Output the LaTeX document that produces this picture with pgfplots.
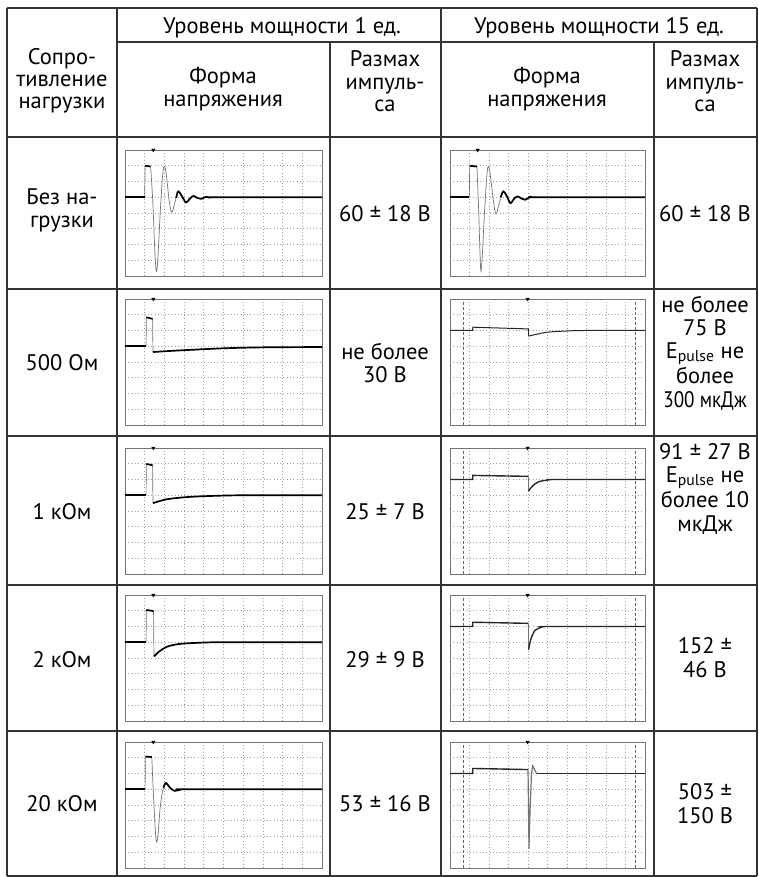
\documentclass[border=0pt]{standalone}
\usepackage{fontspec}
\setmainfont{PT Sans}
\usepackage{pgfplots}
\pgfplotsset{compat=1.18}

\pgfplotsset{
  osc/.style={
    width=197pt, height=126pt, scale only axis, anchor=north west,
    xmin=0, xmax=10, ymin=-4, ymax=4,
    xtick={1,...,9}, ytick={-3,...,3},
    xticklabel=\empty, yticklabel=\empty,
    major tick length=0pt,
    grid=major,
    major grid style={dash pattern=on 0.9pt off 2.4pt, black!38, line width=0.7pt},
    axis line style={black!55, line width=0.8pt},
  },
  fast/.style={black!55, line width=0.7pt},
  slow/.style={black, line width=1.7pt},
  thin/.style={black!85, line width=1.0pt},
  cursor/.style={black!60, densely dashed, line width=0.8pt},
  trig/.style={only marks, mark=triangle*, mark size=2pt, mark options={rotate=180, black}},
}

\newcommand\cell[3]{\node[anchor=base, inner sep=0pt, font=\fontsize{22.5}{26}\selectfont] at (#1,#2) {#3};}

\begin{document}
\begin{tikzpicture}
\begin{scope}[x=1pt, y=-1pt]
\path[use as bounding box] (0,0) rectangle (758,877);
\begin{scope}[draw=black!80, line width=1.5pt]
  \draw (7,8) -- (757,8);
  \draw (117,42) -- (757,42);
  \foreach \yy in {137,289,436,585,731} \draw (7,\yy) -- (757,\yy);
  \draw (7,876) -- (757,876);
  \draw (7,8) -- (7,876);
  \draw (117,8) -- (117,876);
  \draw (441,8) -- (441,876);
  \draw (757,8) -- (757,876);
  \draw (330,42) -- (330,876);
  \draw (654,42) -- (654,876);
\end{scope}

% header
\cell{282}{34}{Уровень мощности 1 ед.}
\cell{599}{34}{Уровень мощности 15 ед.}
\cell{62}{65}{Сопро-}
\cell{62}{87}{тивление}
\cell{62}{109}{нагрузки}
\cell{223}{84}{Форма}
\cell{223}{107}{напряжения}
\cell{385}{67}{Размах}
\cell{385}{90}{импуль-}
\cell{385}{112}{са}
\cell{547}{84}{Форма}
\cell{547}{107}{напряжения}
\cell{705}{67}{Размах}
\cell{705}{90}{импуль-}
\cell{705}{112}{са}

% rows
\cell{62}{205}{Без на-}
\cell{62}{228}{грузки}
\cell{385}{222}{60 ± 18 В}
\cell{705}{222}{60 ± 18 В}

\cell{62}{370}{500 Ом}
\cell{385}{359}{не более}
\cell{385}{382}{30 В}
\cell{705}{312}{не более}
\cell{705}{335}{75 В}
\cell{705}{358}{E\textsubscript{pulse} не}
\cell{705}{383}{более}
\cell{705}{407}{\scalebox{0.85}[1]{300 мкДж}}

\cell{62}{519}{1 кОм}
\cell{385}{519}{25 ± 7 В}
\cell{705}{459}{91 ± 27 В}
\cell{705}{482}{E\textsubscript{pulse} не}
\cell{705}{507}{более 10}
\cell{705}{531}{мкДж}

\cell{62}{667}{2 кОм}
\cell{385}{667}{29 ± 9 В}
\cell{705}{653}{152 ±}
\cell{705}{677}{46 В}

\cell{62}{811}{20 кОм}
\cell{385}{811}{53 ± 16 В}
\cell{705}{799}{503 ±}
\cell{705}{823}{150 В}
\end{scope}

% ---- no load, 1 unit
\begin{axis}[osc, at={(125pt,-150pt)}]
\addplot[fast] coordinates {(1.0,1) (1.02,3.0)};
\addplot[fast, smooth, tension=0.6] coordinates {
  (1.3,2.95) (1.42,0.5) (1.52,-2.6) (1.6,-3.7) (1.68,-2.6) (1.8,0.3)
  (1.92,2.5) (2.0,2.95) (2.1,2.4) (2.24,0.8) (2.37,0.05) (2.52,0.6)
  (2.7,1.37) (2.9,1.05) (3.1,0.67) (3.3,0.92) (3.48,1.08) (3.68,0.95)
  (3.88,0.9) (4.1,1.02) (4.35,0.98) (4.7,1.0)};
\addplot[slow] coordinates {(0,1) (1.0,1)};
\addplot[slow] coordinates {(1.02,3.0) (1.3,2.95)};
\addplot[slow, smooth, tension=0.6] coordinates {
  (2.6,0.95) (2.7,1.37) (2.9,1.05) (3.1,0.67) (3.3,0.92) (3.48,1.08)
  (3.68,0.95) (3.88,0.9) (4.1,1.02) (4.35,0.98) (4.7,1.0) (10,1.0)};
\addplot[trig] coordinates {(1.44,4)};
\end{axis}

% ---- no load, 15 units
\begin{axis}[osc, at={(450pt,-150pt)}, width=195pt]
\addplot[fast] coordinates {(0.99,1) (1.01,3.0)};
\addplot[fast, smooth, tension=0.6] coordinates {
  (1.38,2.95) (1.46,0.5) (1.54,-2.6) (1.59,-3.7) (1.66,-2.6) (1.78,0.3)
  (1.9,2.5) (1.97,2.95) (2.07,2.4) (2.22,0.8) (2.36,-0.05) (2.52,0.6)
  (2.74,1.37) (2.92,1.05) (3.1,0.63) (3.28,0.9) (3.47,1.05) (3.66,0.92)
  (3.85,0.84) (4.05,0.98) (4.2,1.02) (4.6,1.0)};
\addplot[slow] coordinates {(0,1) (0.99,1)};
\addplot[slow] coordinates {(1.01,3.0) (1.38,2.95)};
\addplot[slow, smooth, tension=0.6] coordinates {
  (2.6,1.0) (2.74,1.37) (2.92,1.05) (3.1,0.63) (3.28,0.9) (3.47,1.05)
  (3.66,0.92) (3.85,0.84) (4.05,0.98) (4.2,1.02) (4.6,1.0) (10,1.0)};
\addplot[trig] coordinates {(1.42,4)};
\end{axis}

% ---- 500 Ohm, 1 unit
\begin{axis}[osc, at={(125pt,-299pt)}]
\addplot[fast] coordinates {(1.07,1) (1.08,2.84)};
\addplot[fast] coordinates {(1.4,2.74) (1.42,0.63)};
\addplot[slow] coordinates {(0,1) (1.07,1)};
\addplot[slow] coordinates {(1.08,2.84) (1.4,2.74)};
\addplot[slow, smooth] coordinates {(1.42,0.63) (2,0.68) (3,0.75) (5,0.87) (7,0.93) (10,0.95)};
\addplot[trig] coordinates {(1.44,4)};
\end{axis}

% ---- 500 Ohm, 15 units
\begin{axis}[osc, at={(450pt,-299pt)}, width=195pt]
\addplot[cursor] coordinates {(0.68,-4) (0.68,4)};
\addplot[cursor] coordinates {(9.52,-4) (9.52,4)};
\addplot[thin] coordinates {(0,2) (1.16,2) (1.17,2.21) (4.02,2.1) (4.03,1.64)};
\addplot[thin, smooth] coordinates {(4.03,1.64) (4.5,1.78) (5.04,1.9) (6,1.97) (6.9,2.0) (10,2.0)};
\addplot[trig] coordinates {(3.98,4)};
\end{axis}

% ---- 1 kOhm, 1 unit
\begin{axis}[osc, at={(125pt,-448pt)}]
\addplot[fast] coordinates {(1.07,1) (1.08,2.99)};
\addplot[fast] coordinates {(1.4,2.9) (1.42,0.5)};
\addplot[slow] coordinates {(0,1) (1.07,1)};
\addplot[slow] coordinates {(1.08,2.99) (1.4,2.9)};
\addplot[slow, smooth] coordinates {(1.42,0.5) (2.1,0.74) (3,0.87) (4,0.94) (6,1.0) (10,1.0)};
\addplot[trig] coordinates {(1.44,4)};
\end{axis}

% ---- 1 kOhm, 15 units
\begin{axis}[osc, at={(450pt,-448pt)}, width=195pt]
\addplot[cursor] coordinates {(0.68,-4) (0.68,4)};
\addplot[cursor] coordinates {(9.52,-4) (9.52,4)};
\addplot[thin, line width=1.4pt] coordinates {(0,2) (1.16,2) (1.17,2.26) (4.02,2.2)};
\addplot[fast] coordinates {(4.02,2.2) (4.03,1.26)};
\addplot[thin, line width=1.4pt, smooth] coordinates {(4.03,1.26) (4.2,1.55) (4.53,1.85) (5.04,1.97) (5.5,2.0) (10,2.0)};
\addplot[trig] coordinates {(3.98,4)};
\end{axis}

% ---- 2 kOhm, 1 unit
\begin{axis}[osc, at={(125pt,-595pt)}]
\addplot[fast] coordinates {(1.07,1) (1.08,3.05)};
\addplot[fast] coordinates {(1.45,2.98) (1.47,0.1)};
\addplot[slow] coordinates {(0,1) (1.07,1)};
\addplot[slow] coordinates {(1.08,3.05) (1.45,2.98)};
\addplot[slow, smooth] coordinates {(1.47,0.1) (1.7,0.38) (2.1,0.7) (2.5,0.84) (3,0.92) (4,0.98) (5,1.0) (10,1.0)};
\addplot[trig] coordinates {(1.44,4)};
\end{axis}

% ---- 2 kOhm, 15 units
\begin{axis}[osc, at={(450pt,-595pt)}, width=195pt]
\addplot[cursor] coordinates {(0.68,-4) (0.68,4)};
\addplot[cursor] coordinates {(9.52,-4) (9.52,4)};
\addplot[thin, line width=1.4pt] coordinates {(0,2) (1.16,2) (1.17,2.27) (4.02,2.2)};
\addplot[fast] coordinates {(4.02,2.2) (4.03,0.53)};
\addplot[thin, line width=1.4pt, smooth] coordinates {(4.03,0.53) (4.15,1.2) (4.36,1.75) (4.7,1.95) (5.1,2.0) (10,2.0)};
\addplot[trig] coordinates {(3.98,4)};
\end{axis}

% ---- 20 kOhm, 1 unit
\begin{axis}[osc, at={(125pt,-742pt)}]
\addplot[fast] coordinates {(1.02,1) (1.03,3.07)};
\addplot[fast, smooth, tension=0.6] coordinates {
  (1.36,3.05) (1.45,0.5) (1.55,-1.8) (1.61,-2.36) (1.68,-1.8) (1.8,0)
  (1.95,1.1) (2.08,1.4) (2.25,1.15) (2.5,0.9) (2.8,0.97) (3.2,1.0)};
\addplot[slow] coordinates {(0,1) (1.02,1)};
\addplot[slow] coordinates {(1.03,3.07) (1.36,3.05)};
\addplot[slow, smooth, tension=0.6] coordinates {(1.95,1.1) (2.08,1.4) (2.25,1.15) (2.5,0.9) (2.8,0.97) (3.2,1.0) (10,1.0)};
\addplot[trig] coordinates {(1.44,4)};
\end{axis}

% ---- 20 kOhm, 15 units
\begin{axis}[osc, at={(450pt,-742pt)}, width=195pt]
\addplot[cursor] coordinates {(0.68,-4) (0.68,4)};
\addplot[cursor] coordinates {(9.52,-4) (9.52,4)};
\addplot[thin, line width=1.4pt] coordinates {(0,2) (1.16,2) (1.17,2.32) (4.0,2.25)};
\addplot[fast, line width=1.2pt] coordinates {(4.0,2.25) (4.02,0.5) (4.05,-2.78) (4.1,-0.5) (4.18,2.0) (4.24,2.48) (4.44,2.0)};
\addplot[thin, line width=1.4pt] coordinates {(4.44,2.0) (10,2.0)};
\addplot[trig] coordinates {(3.98,4)};
\end{axis}
\end{tikzpicture}
\end{document}
